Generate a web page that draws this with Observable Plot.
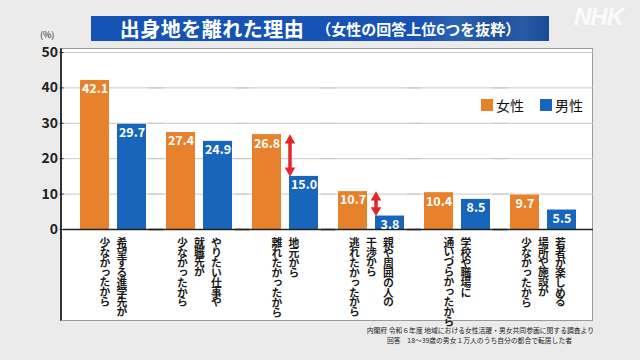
<!DOCTYPE html>
<html><head><meta charset="utf-8">
<script src="https://cdn.jsdelivr.net/npm/d3@7"></script>
<script src="https://cdn.jsdelivr.net/npm/@observablehq/plot@0.6"></script>
<style>
html,body{margin:0;padding:0;background:#ebebeb;}
#wrap{position:relative;width:640px;height:360px;overflow:hidden;font-family:"Noto Sans CJK JP",sans-serif;background:#ebebeb;}
#panel{position:absolute;left:60px;top:48px;width:533px;height:273px;background:#fff;border:1px solid #9a9a9a;border-left:2px solid #333;box-sizing:border-box;}
#banner{position:absolute;left:91px;top:16px;width:458px;height:25px;
  background:linear-gradient(90deg,#1653b6 0%,#1653b6 72%,#2b63b0 80%,#1b4f9e 88%,#2a5aa6 94%,#184a95 100%);
  color:#fff;display:flex;align-items:center;justify-content:center;font-weight:bold;line-height:25px;}
#banner .t1{font-size:20px;letter-spacing:0.5px;}
#banner .t2{font-size:15px;margin-left:12px;}
#nhk{position:absolute;left:574px;top:3px;font-family:"Liberation Sans",sans-serif;font-weight:bold;font-style:italic;font-size:24px;color:rgba(255,255,255,0.85);letter-spacing:-1px;}
#unit{position:absolute;left:40px;top:28px;font-size:9px;color:#222;}
#legend{position:absolute;left:481px;top:95px;display:flex;align-items:center;font-size:14px;color:#111;}
#legend .sw{width:12px;height:12px;display:inline-block;margin-right:3px;}
#legend .item{display:flex;align-items:center;margin-right:16px;}
#source{position:absolute;right:46px;top:325px;font-size:6.8px;color:#222;text-align:right;line-height:10px;}
#source .l2{padding-right:22px;}
#chart{position:absolute;left:0;top:0;}
#chart svg{display:block;}
</style>
</head><body>
<div id="wrap">
  <div id="panel"></div>
  <div id="banner"><span class="t1">出身地を離れた理由</span><span class="t2">（女性の回答上位6つを抜粋）</span></div>
  <div id="nhk">NHK</div>
  <div id="unit">(%)</div>
  <div id="chart"></div>
  <div id="legend"></div>
  <div id="source"><div>内閣府 令和６年度 地域における女性活躍・男女共同参画に関する調査より</div><div class="l2">回答　18～39歳の男女１万人のうち自分の都合で転居した者</div></div>
</div>
<script>
const categories = [
  "希望する進学先が\n少なかったから",
  "やりたい仕事や\n就職先が\n少なかったから",
  "地元から\n離れたかったから",
  "親や周囲の人の\n干渉から\n逃れたかったから",
  "学校や職場に\n通いづらかったから",
  "若者が楽しめる\n場所や施設が\n少なかったから"
];
const female = [42.1, 27.4, 26.8, 10.7, 10.4, 9.7];
const male = [29.7, 24.9, 15.0, 3.8, 8.5, 5.5];
const series = ["女性", "男性"];
const colors = ["#e8812b", "#1766bb"];
const yTicks = [0, 10, 20, 30, 40, 50];
const gapCategories = [categories[2], categories[3]];
const arrowColor = "#e2262b";

const rows = [];
categories.forEach((c, i) => {
  rows.push({cat: c, sex: series[0], value: female[i]});
  rows.push({cat: c, sex: series[1], value: male[i]});
});
const gaps = gapCategories.map(c => {
  const i = categories.indexOf(c);
  return {cat: c, sex: series[1], hi: female[i], lo: male[i]};
});

const plot = Plot.plot({
  width: 640, height: 360,
  marginTop: 52, marginBottom: 131, marginLeft: 61, marginRight: 46,
  style: {background: "transparent", fontFamily: "'Noto Sans CJK JP', sans-serif", overflow: "visible"},
  fx: {domain: categories, axis: null, paddingInner: 0, paddingOuter: 0.074},
  x: {domain: series, axis: null, paddingInner: 0.2105, paddingOuter: 0.246},
  y: {domain: [0, 50], axis: null},
  color: {domain: series, range: colors},
  marks: [
    Plot.ruleY(yTicks.filter(t => t > 0), {stroke: "#c8c8c8", strokeWidth: 1, insetLeft: -7, insetRight: -7}),
    Plot.barY(rows, {fx: "cat", x: "sex", y: "value", fill: "sex"}),
    Plot.ruleY([0], {stroke: "#222", strokeWidth: 1.5, insetLeft: -7, insetRight: -7}),
    Plot.text(rows, {fx: "cat", x: "sex", y: "value", text: d => d.value.toFixed(1), fill: "white",
      fontSize: 12.5, fontWeight: "bold", lineAnchor: "top", dy: 4}),
    Plot.axisY({ticks: yTicks, tickSize: 4, tickPadding: 2, fontSize: 14, fontWeight: "bold", color: "#222", dx: -6.4}),
    Plot.ruleX(gaps, {fx: "cat", x: "sex", y1: "hi", y2: "lo", stroke: arrowColor, strokeWidth: 3.5, dx: -14, insetTop: 6, insetBottom: 6}),
    Plot.dot(gaps, {fx: "cat", x: "sex", y: "hi", symbol: "triangle", r: 3.9, fill: arrowColor, stroke: null, dx: -14, dy: 5.8}),
    Plot.dot(gaps, {fx: "cat", x: "sex", y: "lo", symbol: "triangle", r: 3.9, rotate: 180, fill: arrowColor, stroke: null, dx: -14, dy: -5.8}),
    Plot.text(categories, {fx: d => d, text: d => d, frameAnchor: "bottom", textAnchor: "start", dy: 8,
      fontSize: 10.8, fontWeight: "bold", fill: "#1a1a1a", ariaDescription: "category-labels"})
  ]
});

const colGap = 17;
plot.querySelectorAll('g[aria-description="category-labels"] text').forEach(t => {
  t.setAttribute("writing-mode", "vertical-rl");
  t.style.writingMode = "vertical-rl";
  t.style.letterSpacing = "-0.9px";
  t.removeAttribute("y");
  const spans = Array.from(t.querySelectorAll("tspan"));
  const n = spans.length;
  spans.forEach((s, i) => {
    s.removeAttribute("dy");
    s.setAttribute("y", "0");
    s.setAttribute("x", String(((n - 1) / 2 - i) * colGap));
  });
});
document.getElementById("chart").appendChild(plot);

const legend = document.getElementById("legend");
series.forEach((s, i) => {
  const item = document.createElement("div");
  item.className = "item";
  const sw = document.createElement("span");
  sw.className = "sw";
  sw.style.background = colors[i];
  const lab = document.createElement("span");
  lab.textContent = s;
  item.appendChild(sw); item.appendChild(lab);
  legend.appendChild(item);
});
</script>
</body></html>
